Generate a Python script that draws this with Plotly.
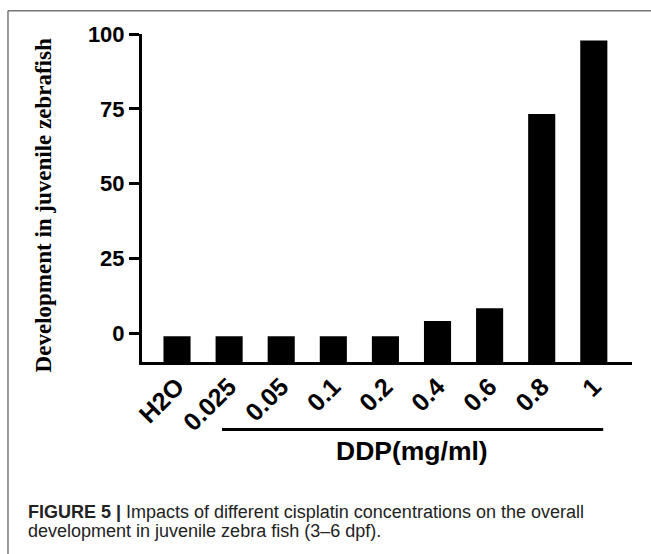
import plotly.graph_objects as go

categories = ["H2O", "0.025", "0.05", "0.1", "0.2", "0.4", "0.6", "0.8", "1"]
values = [-1, -1, -1, -1, -1, 4.1, 8.4, 73.3, 97.8]
y_ticks = [0, 25, 50, 75, 100]
Y_MIN = -9.6
Y_MAX = 100

fig = go.Figure()
fig.add_trace(go.Bar(
    x=categories,
    y=[v - Y_MIN for v in values],
    base=Y_MIN,
    width=0.52,
    marker=dict(color="black", line=dict(width=0)),
    showlegend=False,
))

bold_sans = dict(family="Arial, Liberation Sans, sans-serif", color="black", weight="bold")

fig.update_layout(
    width=651, height=554,
    margin=dict(l=142, r=19, t=34, b=192, autoexpand=False),
    plot_bgcolor="white", paper_bgcolor="white",
    xaxis=dict(
        type="category",
        range=[-0.672, 8.733],
        automargin=False,
        showline=True, linewidth=3, linecolor="black",
        ticks="", showgrid=False, zeroline=False,
        tickangle=-45,
        ticklabelstandoff=-3,
        tickfont=dict(size=25, **bold_sans),
    ),
    yaxis=dict(
        range=[Y_MIN, Y_MAX],
        automargin=False,
        tickvals=y_ticks,
        showline=True, linewidth=3, linecolor="black",
        ticks="outside", ticklen=10, tickwidth=3, tickcolor="black",
        showgrid=False, zeroline=False,
        tickfont=dict(size=22, **bold_sans),
    ),
)

# frame (left and top)
fig.add_shape(type="line", xref="paper", yref="paper",
              x0=-0.2735, x1=1.04, y0=1.071, y1=1.071,
              line=dict(color="#777777", width=1.5))
fig.add_shape(type="line", xref="paper", yref="paper",
              x0=-0.2735, x1=-0.2735, y0=1.071, y1=-0.6,
              line=dict(color="#777777", width=1.5))

# DDP bracket line
fig.add_shape(type="line", xref="x", yref="paper",
              x0=0.864, x1=8.18, y0=-0.206, y1=-0.206,
              line=dict(color="black", width=3))

fig.add_annotation(text="DDP(mg/ml)", xref="paper", yref="paper",
                   x=0.551, y=-0.271, xanchor="center", yanchor="middle",
                   showarrow=False, font=dict(size=26.5, **bold_sans))

fig.add_annotation(text="<b>Development in juvenile zebrafish</b>",
                   xref="paper", yref="paper", x=-0.201, y=0.476,
                   xanchor="center", yanchor="middle",
                   textangle=-90, showarrow=False,
                   font=dict(size=23, family="Liberation Serif, Times New Roman, serif", color="black"))

cap_font = dict(size=18, family="Liberation Sans, Arial, sans-serif", color="#222222")
fig.add_annotation(text="<b>FIGURE 5 |</b> Impacts of different cisplatin concentrations on the overall",
                   xref="paper", yref="paper", x=-0.2367, y=-0.457,
                   xanchor="left", yanchor="middle", showarrow=False, font=cap_font)
fig.add_annotation(text="development in juvenile zebra fish (3–6 dpf).",
                   xref="paper", yref="paper", x=-0.2367, y=-0.515,
                   xanchor="left", yanchor="middle", showarrow=False, font=cap_font)

fig.write_html("out.html", config={"displayModeBar": False},
               post_script="document.body.style.margin='0';document.body.style.overflow='hidden';")
